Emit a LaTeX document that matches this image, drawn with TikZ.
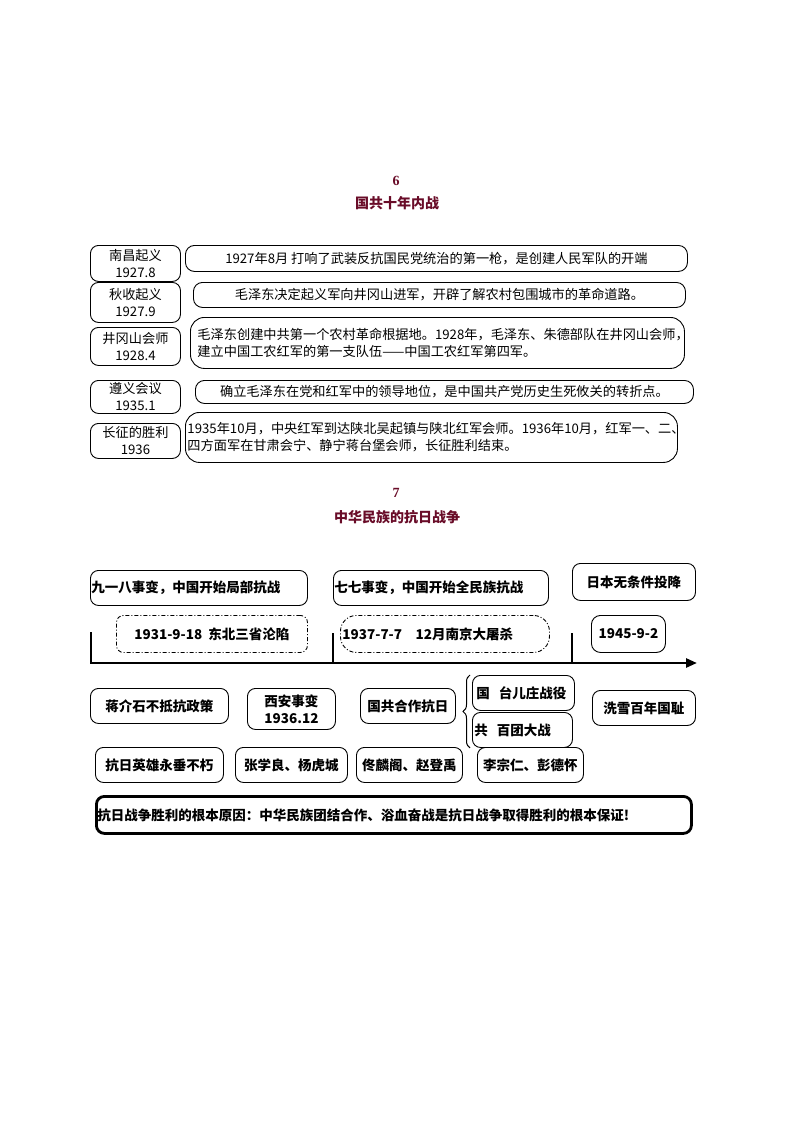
\documentclass[tikz,border=0pt]{standalone}
\usepackage{fontspec}
\setmainfont{Noto Sans CJK SC}
\newfontfamily\numfont{Liberation Serif}
\usetikzlibrary{arrows.meta,decorations.pathreplacing}
\definecolor{titlered}{RGB}{105,12,40}
\newcommand{\toptxt}{\fontsize{13.2pt}{17pt}\selectfont}
\newcommand{\bottxt}{\fontsize{13.5pt}{17pt}\selectfont\bfseries}

\begin{document}
\begin{tikzpicture}[x=1pt, y=-1pt, >=Latex,
  every node/.style={anchor=north west, inner sep=1pt},
  yearbox/.style={draw, line width=0.9pt, rounded corners=8pt, minimum width=90pt, align=center, font=\toptxt},
  eventbox/.style={draw, line width=0.9pt, rounded corners=9pt, align=center, font=\toptxt},
  warbox/.style={draw, line width=0.9pt, rounded corners=8pt, minimum height=35pt, align=center, font=\bottxt},
  datebox/.style={draw, line width=0.9pt, dash pattern=on 4pt off 2pt on 1pt off 2pt, minimum height=37pt, font=\bottxt},
  heading/.style={anchor=center, text=titlered, font=\fontsize{14pt}{16pt}\selectfont\bfseries},
  number/.style={anchor=center, text=titlered, font=\numfont\fontsize{14pt}{16pt}\selectfont\bfseries}]
\useasboundingbox (0,0) rectangle (794,1123);

% section 6
\node[number] (num6) at (396,181) {6};
\node[heading] (title6) at (397,203) {国共十年内战};

\node[yearbox, minimum height=36pt] (nanchang) at (90,245) {南昌起义\\1927.8};
\node[yearbox, minimum height=40pt] (qiushou) at (90,282) {秋收起义\\1927.9};
\node[yearbox, minimum height=38pt] (jinggang) at (90,327) {井冈山会师\\1928.4};
\node[yearbox, minimum height=33pt] (zunyi) at (90,380) {遵义会议\\1935.1};
\node[yearbox, minimum height=35pt] (changzheng) at (90,423) {长征的胜利\\1936};

\node[eventbox, minimum width=502pt, minimum height=26pt] (nanchangtxt) at (185,245)
  {1927年8月 打响了武装反抗国民党统治的第一枪，是创建人民军队的开端};
\node[eventbox, minimum width=492pt, minimum height=25pt] (qiushoutxt) at (193,282)
  {毛泽东决定起义军向井冈山进军，开辟了解农村包围城市的革命道路。};
\node[eventbox, rounded corners=14pt, align=left, inner xsep=7pt, text width=480pt, minimum height=51pt] (jinggangtxt) at (190,317)
  {毛泽东创建中共第一个农村革命根据地。1928年，毛泽东、朱德部队在井冈山会师，\\建立中国工农红军的第一支队伍——中国工农红军第四军。};
\node[eventbox, minimum width=498pt, minimum height=23pt] (zunyitxt) at (195,380)
  {确立毛泽东在党和红军中的领导地位，是中国共产党历史生死攸关的转折点。};
\node[eventbox, rounded corners=14pt, align=left, inner xsep=2pt, text width=488pt, minimum height=50pt] (changzhengtxt) at (185,412)
  {1935年10月，中央红军到达陕北吴起镇与陕北红军会师。1936年10月，红军一、二、\\四方面军在甘肃会宁、静宁蒋台堡会师，长征胜利结束。};

% section 7
\node[number] (num7) at (396,493) {7};
\node[heading] (title7) at (397,517) {中华民族的抗日战争};

\node[warbox, align=left, text width=215pt] (jiuyiba) at (90,570) {九一八事变，中国开始局部抗战};
\node[warbox, align=left, text width=213pt] (qiqi) at (333,570) {七七事变，中国开始全民族抗战};
\node[warbox, minimum width=123pt, minimum height=37pt] (touxiang) at (572,563) {日本无条件投降};

\node[datebox, rounded corners=7pt, minimum width=191pt] (d1931) at (116,615) {1931-9-18\ \ 东北三省沦陷};
\node[datebox, rounded corners=16pt, minimum width=209pt, text width=205pt, align=left] (d1937) at (340,615) {1937-7-7\quad 12月南京大屠杀};
\node[warbox, rounded corners=9pt, minimum width=74pt, minimum height=37pt] (d1945) at (591,615) {1945-9-2};

% timeline
\coordinate (t0) at (91,663);
\coordinate (t1) at (333,663);
\coordinate (t2) at (572,663);
\coordinate (tend) at (697,663);
\draw[line width=2.6pt] ([yshift=31pt]t0) -- (t0) -- (tend) [-{Triangle[length=11pt,width=9pt]}];
\draw[line width=2.6pt] (t1) -- ++(0,-30);
\draw[line width=2.6pt] (t2) -- ++(0,-30);

\node[warbox, minimum width=138pt] (jiang) at (90,688) {蒋介石不抵抗政策};
\node[warbox, minimum width=88pt, minimum height=41pt] (xian) at (247,688) {西安事变\\1936.12};
\node[warbox, minimum width=95pt] (guogong) at (360,688) {国共合作抗日};
\node[warbox, minimum width=101pt, text width=94pt, align=left, inner xsep=4pt] (taier) at (472,675) {国\ \ 台儿庄战役};
\node[warbox, minimum width=100pt, text width=96pt, align=left, inner xsep=2pt] (baituan) at (472,712) {共\ \ 百团大战};
\node[warbox, minimum width=103pt] (xixue) at (592,690) {洗雪百年国耻};
\draw[line width=1pt, decorate, decoration={brace, amplitude=7pt}]
  ([xshift=-2pt]baituan.south west) -- ([xshift=-2pt]taier.north west);

\node[warbox, minimum width=128pt] (yingxiong) at (95,747) {抗日英雄永垂不朽};
\node[warbox, minimum width=112pt] (zhangyang) at (235,747) {张学良、杨虎城};
\node[warbox, minimum width=106pt] (tongzhao) at (356,747) {佟麟阁、赵登禹};
\node[warbox, minimum width=106pt] (lipeng) at (477,747) {李宗仁、彭德怀};

\node[warbox, line width=2.8pt, minimum height=37pt, text width=593pt, align=left] (genben) at (95,795)
  {抗日战争胜利的根本原因：中华民族团结合作、浴血奋战是抗日战争取得胜利的根本保证!};
\end{tikzpicture}
\end{document}
